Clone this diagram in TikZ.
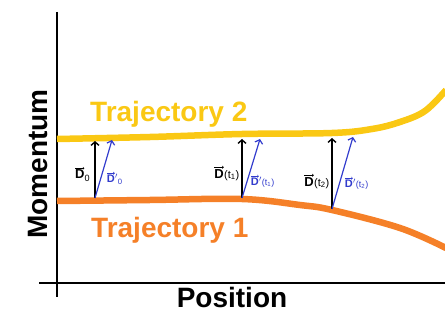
\documentclass[tikz,border=0pt]{standalone}
\usepackage{fontspec}
\setmainfont{Liberation Sans}
\usetikzlibrary{arrows.meta}
\definecolor{trajyellow}{RGB}{250,200,20}
\definecolor{trajorange}{RGB}{245,128,40}
\definecolor{pertblue}{RGB}{50,60,205}
% bold D with a small drawn vector arrow
\newcommand{\vecD}{\tikz[baseline=(d.base),x=1pt,y=1pt]{\node[inner sep=0,outer sep=0] (d) {\bfseries D};
  \draw[-{Straight Barb[length=1.3,width=2.6]},line width=0.5] ([yshift=1.8pt]d.north west) -- ([yshift=1.8pt]d.north east);}}
\tikzset{
  >=latex,
  % Axes
  axis/.style={line width=1.3,black},
  % Trajectories
  traj/.style={line width=6.5},
  traj 1/.style={traj,trajorange},
  traj 2/.style={traj,trajyellow},
  % Big labels
  big label/.style={font=\fontsize{28}{30}\selectfont\bfseries,inner sep=0},
  % Separation vectors
  sep arrow/.style={-{Straight Barb[length=3.5,width=8]},line width=1.4,black},
  sep arrow pert/.style={sep arrow,pertblue,line width=1.2},
  sep label/.style={font=\fontsize{13}{13}\selectfont,inner sep=0.5},
  sep label pert/.style={sep label,pertblue,font=\fontsize{11}{11}\selectfont}
}

\begin{document}
\begin{tikzpicture}[x=1pt,y=-1pt]
        \useasboundingbox (0,0) rectangle (445,326);
        % Axes
        \draw[axis] (57,12) -- (57,297);
        \draw[axis] (39,283) -- (445,283);
        % Trajectory 2
        \draw[traj 2] plot[smooth,tension=0.6] coordinates
          {(57,139) (150,137) (242,134) (332,133) (372,129) (400,122) (425,111) (446,90)};
        % Trajectory 1
        \draw[traj 1] plot[smooth,tension=0.6] coordinates
          {(57,201) (150,200) (242,199) (300,205) (332,210) (400,228) (446,248)};
        % Separation at t0, t1, t2
        \coordinate (a0) at (95,198);  \coordinate (b0) at (95,141);  \coordinate (c0) at (112,140);
        \coordinate (a1) at (242,198); \coordinate (b1) at (242,139); \coordinate (c1) at (260,139);
        \coordinate (a2) at (332,209); \coordinate (b2) at (332,138); \coordinate (c2) at (353,137);
        \draw[sep arrow] (a0) -- (b0);
        \draw[sep arrow pert] (a0) -- (c0);
        \draw[sep arrow] (a1) -- (b1);
        \draw[sep arrow pert] (a1) -- (c1);
        \draw[sep arrow] (a2) -- (b2);
        \draw[sep arrow pert] (a2) -- (c2);
        \node[sep label,anchor=east] (l0) at (91,174) {\vecD\textsubscript{0}};
        \node[sep label,anchor=east] (l1) at (240,173) {\vecD{\fontsize{11}{11}\selectfont(t\textsubscript{1})}};
        \node[sep label,anchor=east] (l2) at (330,181) {\vecD{\fontsize{11}{11}\selectfont(t\textsubscript{2})}};
        \node[sep label pert,anchor=west] (m0) at (106,178) {\vecD$'$\textsubscript{0}};
        \node[sep label pert,anchor=west] (m1) at (250,181) {\vecD$'${\fontsize{9}{9}\selectfont(t\textsubscript{1})}};
        \node[sep label pert,anchor=west] (m2) at (344,183) {\vecD$'${\fontsize{9}{9}\selectfont(t\textsubscript{2})}};
        % Labels
        \node[big label,trajyellow,anchor=base west] (n2) at (90,122) {Trajectory 2};
        \node[big label,trajorange,anchor=base west] (n1) at (91,238) {Trajectory 1};
        \node[big label,rotate=90,anchor=base] (ylab) at (47,164) {Momentum};
        \node[big label,anchor=base] (xlab) at (232,308) {Position};
      \end{tikzpicture}
\end{document}
